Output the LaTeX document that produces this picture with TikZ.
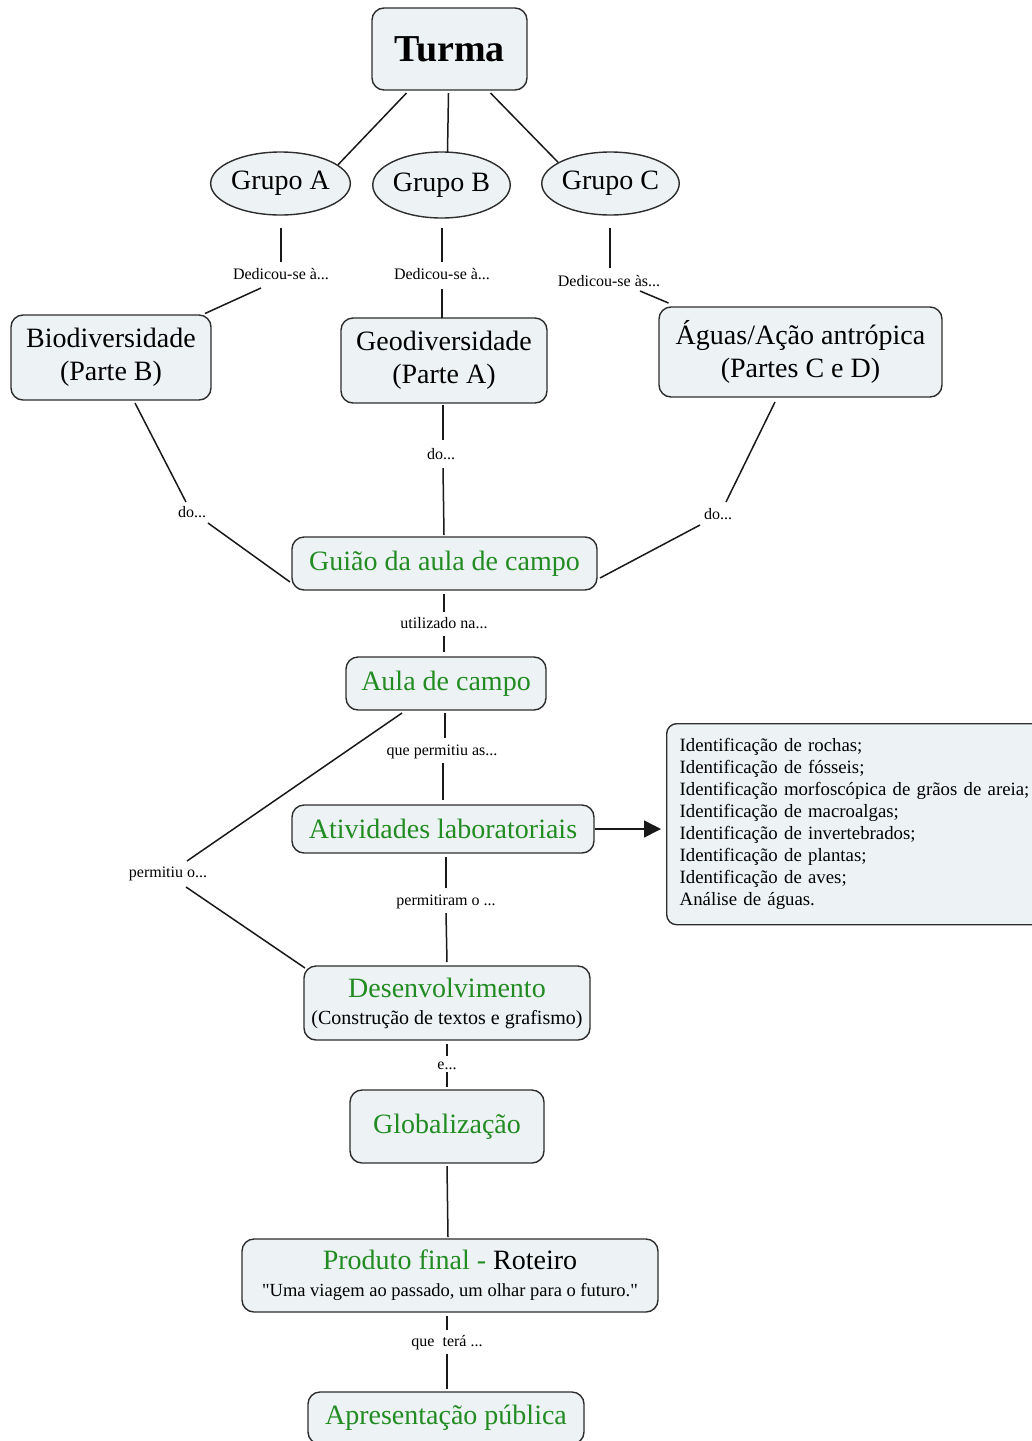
\documentclass[tikz,border=0pt]{standalone}
\usepackage{fontspec}
\setmainfont{Liberation Serif}
\usetikzlibrary{calc,shapes.geometric,arrows.meta}
\definecolor{boxfill}{RGB}{237,243,245}
\definecolor{boxline}{RGB}{45,45,45}
\definecolor{cgreen}{RGB}{34,139,34}
\definecolor{lineclr}{RGB}{25,25,25}
\newcommand{\myfs}[1]{\fontsize{#1}{#1}\selectfont}
\begin{document}
\begin{tikzpicture}[x=1pt,y=-1pt,
  box/.style={draw=boxline, line width=1.4pt, fill=boxfill, rounded corners=12pt, inner sep=0pt, align=center, font=\fontsize{28}{33}\selectfont},
  grp/.style={ellipse, draw=boxline, line width=1.4pt, fill=boxfill, inner sep=0pt, font=\myfs{28}},
  lbl/.style={inner sep=0pt, font=\myfs{16}, text height=11pt, text depth=3pt},
  conn/.style={draw=lineclr, line width=1.5pt},
  gr/.style={text=cgreen}]
\useasboundingbox (0,0) rectangle (1032,1441);
\clip (0,0) rectangle (1032,1441);

% nodes
\node[box, font=\bfseries\myfs{38}, minimum width=155, minimum height=82] (turma) at (449.5,49) {Turma};
\node[grp, minimum width=135, minimum height=63] (ga) at (280.5,183.5) {Grupo A};
\node[grp, minimum width=135, minimum height=66] (gb) at (441.5,185) {Grupo B};
\node[grp, minimum width=133, minimum height=63] (gc) at (610.5,183.5) {Grupo C};

\node[lbl] (la) at (281,275) {Dedicou-se à...};
\node[lbl] (lb) at (442,275) {Dedicou-se à...};
\node[lbl] (lc) at (609,282) {Dedicou-se às...};

\node[box, minimum width=200, minimum height=85] (bio) at (111,357.5) {Biodiversidade\\(Parte B)};
\node[box, minimum width=206, minimum height=85] (geo) at (444,360.5) {Geodiversidade\\(Parte A)};
\node[box, minimum width=283, minimum height=90] (aguas) at (800.5,352) {Águas/Ação antrópica\\(Partes C e D)};

\node[lbl] (d1) at (192,513) {do...};
\node[lbl] (d2) at (441,455) {do...};
\node[lbl] (d3) at (718,515) {do...};

\node[box, gr, minimum width=305, minimum height=53] (guiao) at (444.5,563.5) {Guião da aula de campo};
\node[lbl] (lu) at (444,624) {utilizado na...};
\node[box, gr, minimum width=200, minimum height=53] (aula) at (446,683.5) {Aula de campo};
\node[lbl] (lqp) at (442,751) {que permitiu as...};
\node[lbl] (lpo) at (168,873) {permitiu o...};
\node[box, gr, minimum width=302, minimum height=48] (ativ) at (443,829) {Atividades laboratoriais};

\node[box, rounded corners=10pt, anchor=north west, minimum width=392, minimum height=201,
      text width=366pt, align=left, inner xsep=13pt, font=\fontsize{18.8}{22}\selectfont] (list) at (666,723)
  {Identificação de rochas;\\
   Identificação de fósseis;\\
   Identificação morfoscópica de grãos de areia;\\
   Identificação de macroalgas;\\
   Identificação de invertebrados;\\
   Identificação de plantas;\\
   Identificação de aves;\\
   Análise de águas.};

\node[lbl] (lpm) at (446,901) {permitiram o ...};
\node[box, minimum width=286, minimum height=74] (desenv) at (447,1003)
  {\textcolor{cgreen}{Desenvolvimento}\\[-6pt]{\myfs{20}(Construção de textos e grafismo)}};
\node[lbl] (le) at (447,1065) {e...};
\node[box, gr, minimum width=194, minimum height=73] (glob) at (447,1126.5) {Globalização};
\node[box, minimum width=416, minimum height=73] (prod) at (450,1275.5)
  {\textcolor{cgreen}{Produto final -} Roteiro\\[-6pt]{\myfs{18.5}\addfontfeatures{Ligatures=TeXOff}"Uma viagem ao passado, um olhar para o futuro."}};
\node[lbl] (lqt) at (447,1342) {que~ terá ...};
\node[box, gr, minimum width=276, minimum height=52] (apres) at (446,1418) {Apresentação pública};

% connectors
\draw[conn] ($(turma)+(-43,44)$) -- (ga.18);
\draw[conn] ($(turma)+(-1,44)$) -- ($(gb)+(6,-33)$);
\draw[conn] ($(turma)+(41,44)$) -- (gc.158);

\draw[conn] ($(ga)+(0.5,44.5)$) -- ($(la)+(0,-13)$);
\draw[conn] ($(la)+(-20,13)$) -- ($(bio)+(94,-44)$);
\draw[conn] ($(gb)+(0.5,43)$) -- ($(lb)+(0,-13)$);
\draw[conn] ($(lb)+(0,14)$) -- ($(geo)+(-2,-42.5)$);
\draw[conn] ($(gc)+(-0.5,44.5)$) -- ($(lc)+(1,-14)$);
\draw[conn] ($(lc)+(31,9)$) -- ($(aguas)+(-132,-49)$);

\draw[conn] ($(bio)+(24,45.5)$) -- ($(d1)+(-6,-11)$);
\draw[conn] ($(d1)+(16,10)$) -- ($(guiao)+(-154.5,18.5)$);
\draw[conn] ($(geo)+(-1,44.5)$) -- ($(d2)+(2,-15)$);
\draw[conn] ($(d2)+(2,13)$) -- ($(guiao)+(-0.5,-28.5)$);
\draw[conn] ($(aguas)+(-25.5,50)$) -- ($(d3)+(8,-13)$);
\draw[conn] ($(d3)+(-18,10)$) -- ($(guiao)+(155.5,14.5)$);

\draw[conn] ($(guiao)+(-0.5,30.5)$) -- ($(lu)+(0,-12)$);
\draw[conn] ($(lu)+(0,12)$) -- ($(aula)+(-2,-31.5)$);
\draw[conn] ($(aula)+(-1,29.5)$) -- ($(lqp)+(3,-13)$);
\draw[conn] ($(lqp)+(1,12)$) -- ($(ativ)+(0,-29)$);
\draw[conn] ($(aula)+(-44,29.5)$) -- ($(lpo)+(19,-12)$);
\draw[conn] ($(lpo)+(18,14)$) -- ($(desenv)+(-142,-35)$);
\draw[conn, -{Triangle[length=17pt,width=17pt]}, shorten >=5pt] (ativ.east) -- (ativ.east -| list.west);
\draw[conn] ($(ativ)+(3,28)$) -- ($(lpm)+(0,-13)$);
\draw[conn] ($(lpm)+(0,12)$) -- ($(desenv)+(0,-41)$);
\draw[conn] ($(desenv)+(0,41)$) -- ($(le)+(0,-9)$);
\draw[conn] ($(le)+(0,7)$) -- ($(glob)+(0,-39.5)$);
\draw[conn] ($(glob)+(0,39.5)$) -- ($(prod)+(-2,-38.5)$);
\draw[conn] ($(prod)+(-3,40.5)$) -- ($(lqt)+(0,-12)$);
\draw[conn] ($(lqt)+(0,12)$) -- ($(apres)+(1,-29)$);
\end{tikzpicture}
\end{document}
